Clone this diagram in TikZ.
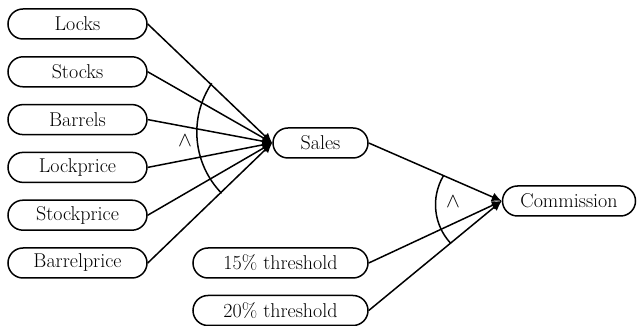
\documentclass[tikz,border=0pt]{standalone}
\usetikzlibrary{shapes.misc,arrows.meta}
\begin{document}
\begin{tikzpicture}[x=1pt,y=1pt,
  box/.style={draw, rounded rectangle, line width=1.5pt, inner sep=0pt,
    minimum height=30pt, font=\fontsize{20}{24}\selectfont},
  conn/.style={line width=1.5pt, -{Latex[length=10pt,width=9pt]}},
  andarc/.style={line width=1.5pt},
  andsym/.style={inner sep=0pt, font=\fontsize{20}{24}\selectfont}]
\useasboundingbox (0,0) rectangle (637,326);
\node[box, minimum width=139pt] (locks) at (77.5,302) {Locks};
\node[box, minimum width=139pt] (stocks) at (77.5,254.2) {Stocks};
\node[box, minimum width=139pt] (barrels) at (77.5,206.4) {Barrels};
\node[box, minimum width=139pt] (lockprice) at (77.5,158.6) {Lockprice};
\node[box, minimum width=139pt] (stockprice) at (77.5,110.8) {Stockprice};
\node[box, minimum width=139pt] (barrelprice) at (77.5,63) {Barrelprice};
\node[box, minimum width=95pt] (sales) at (320.5,183) {Sales};
\node[box, minimum width=133pt] (commission) at (569,125) {Commission};
\node[box, minimum width=175pt] (t15) at (280.5,63) {15\% threshold};
\node[box, minimum width=175pt] (t20) at (280.5,15.5) {20\% threshold};
\foreach \n in {locks,stocks,barrels,lockprice,stockprice,barrelprice}
  \draw[conn] (\n.east) -- (sales.west);
\foreach \n in {sales,t15,t20}
  \draw[conn] (\n.east) -- (commission.west);
\draw[andarc] ([shift={(146.1:87.7)}]284.5,193.8) arc[start angle=146.1, end angle=224.2, radius=87.7pt];
\draw[andarc] ([shift={(149.6:56.7)}]492.2,121.3) arc[start angle=149.6, end angle=222.9, radius=56.7pt];
\node[andsym] (and1) at (185,185) {$\wedge$};
\node[andsym] (and2) at (453,124) {$\wedge$};
\end{tikzpicture}
\end{document}
